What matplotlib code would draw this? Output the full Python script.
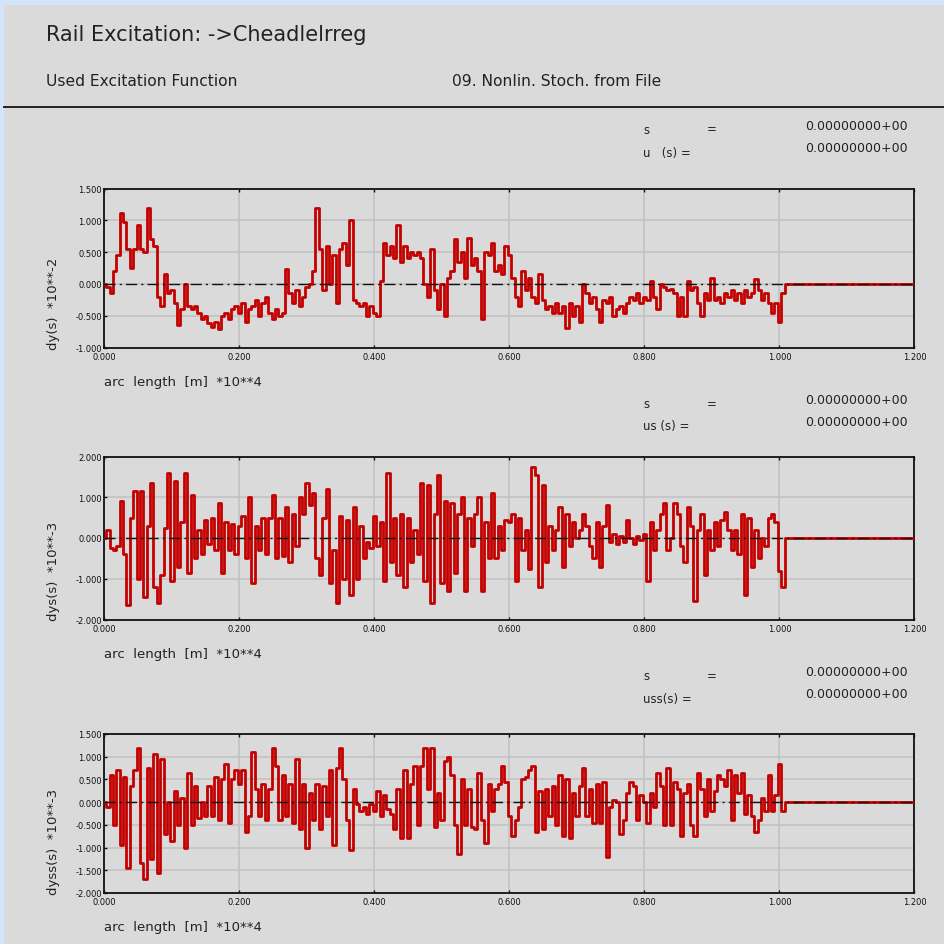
import numpy as np
import matplotlib
matplotlib.use("Agg")
import matplotlib.pyplot as plt
from matplotlib.patches import Rectangle
from matplotlib.lines import Line2D

plt.rcParams['font.family'] = ['DejaVu Sans']

# ---------------------------------------------------------------- data
S_STEP = 0.005          # arc length sampling, units of 10**4 m
S_END = 1.200           # end of the plotted arc length range

dy = [
    0.00, -0.05, -0.15, 0.20, 0.45, 1.12, 0.98, 0.55, 0.25, 0.55,
    0.93, 0.55, 0.50, 1.20, 0.70, 0.60, -0.20, -0.35, 0.15, -0.15,
    -0.10, -0.30, -0.65, -0.40, 0.00, -0.35, -0.40, -0.35, -0.45, -0.55,
    -0.50, -0.62, -0.68, -0.60, -0.71, -0.50, -0.45, -0.55, -0.40, -0.35,
    -0.45, -0.30, -0.60, -0.40, -0.35, -0.25, -0.50, -0.30, -0.20, -0.45,
    -0.55, -0.40, -0.50, -0.45, 0.23, -0.15, -0.30, -0.10, -0.35, -0.20,
    -0.05, 0.00, 0.20, 1.20, 0.55, -0.10, 0.60, 0.00, 0.45, -0.30,
    0.55, 0.65, 0.30, 1.00, -0.25, -0.30, -0.35, -0.30, -0.50, -0.35,
    -0.45, -0.50, 0.05, 0.65, 0.45, 0.60, 0.40, 0.93, 0.35, 0.60,
    0.40, 0.50, 0.45, 0.50, 0.40, 0.00, -0.20, 0.55, -0.10, -0.40,
    0.00, -0.50, 0.10, 0.20, 0.70, 0.35, 0.50, 0.10, 0.72, 0.30,
    0.40, 0.20, -0.55, 0.50, 0.45, 0.65, 0.20, 0.30, 0.15, 0.60,
    0.45, 0.10, -0.20, -0.35, 0.20, -0.10, 0.10, -0.20, -0.30, 0.15,
    -0.25, -0.40, -0.35, -0.45, -0.30, -0.45, -0.35, -0.70, -0.30, -0.50,
    -0.35, -0.60, 0.00, -0.15, -0.30, -0.20, -0.40, -0.60, -0.25, -0.30,
    -0.20, -0.50, -0.40, -0.35, -0.45, -0.30, -0.20, -0.25, -0.15, -0.30,
    -0.20, -0.25, 0.05, -0.20, -0.40, 0.00, -0.05, -0.10, -0.08, -0.15,
    -0.50, -0.20, -0.50, 0.05, -0.10, -0.05, -0.30, -0.50, -0.15, -0.25,
    0.10, -0.25, -0.20, -0.30, -0.15, -0.20, -0.10, -0.25, -0.15, -0.30,
    -0.10, -0.20, -0.15, 0.08, -0.10, -0.25, -0.15, -0.30, -0.45, -0.30,
    -0.60, -0.15, 0.00,
]

dys = [
    0.00, 0.20, -0.25, -0.30, -0.20, 0.90, -0.40, -1.65, 0.50, 1.15,
    -1.00, 1.15, -1.45, 0.30, 1.35, -1.20, -1.60, -0.90, 0.25, 1.60,
    -1.05, 1.40, -0.70, 0.40, 1.60, -0.85, 1.05, -0.50, 0.20, -0.40,
    0.45, -0.15, 0.50, -0.30, 0.85, -0.85, 0.40, -0.30, 0.35, -0.40,
    0.30, 0.55, -0.50, 1.00, -1.10, 0.30, -0.30, 0.50, -0.40, 0.50,
    1.05, -0.50, 0.50, -0.45, 0.75, -0.60, 0.60, -0.20, 1.00, 0.60,
    1.35, 0.80, 1.10, -0.50, -0.90, 0.50, 1.20, -1.10, -0.30, -1.60,
    0.55, -1.00, 0.45, -1.40, 0.75, -1.00, 0.30, -0.50, -0.10, -0.25,
    0.55, -0.20, 0.40, -1.05, 1.60, -0.60, 0.50, -0.90, 0.60, -1.20,
    0.50, -0.60, 0.20, -0.40, 1.35, -1.05, 1.30, -1.60, 0.60, 1.55,
    -1.10, 0.90, -1.30, 0.85, -0.85, 0.60, 1.00, -1.30, 0.50, -0.20,
    0.60, 1.00, -1.30, 0.40, -0.50, 1.10, -0.50, 0.30, -0.30, 0.45,
    0.40, 0.60, -1.05, 0.50, -0.30, 0.20, -0.75, 1.75, 1.55, -1.20,
    1.30, -0.60, 0.30, -0.30, 0.20, 0.75, -0.70, 0.60, -0.20, 0.40,
    0.00, 0.20, 0.60, 0.30, -0.20, -0.50, 0.40, -0.70, 0.30, 0.80,
    -0.10, 0.10, -0.15, 0.05, -0.10, 0.45, 0.00, -0.15, 0.05, -0.05,
    0.10, -1.05, 0.40, -0.30, 0.20, 0.60, 0.85, -0.30, 0.00, 0.85,
    0.60, -0.20, -0.60, 0.75, 0.30, -1.55, 0.20, 0.60, -0.90, 0.20,
    -0.30, 0.40, -0.20, 0.45, 0.65, 0.20, -0.30, 0.20, -0.40, 0.60,
    -1.40, 0.50, -0.70, 0.20, -0.50, 0.00, -0.20, 0.50, 0.60, 0.40,
    -0.80, -1.20, 0.00,
]

dyss = [
    0.00, -0.10, 0.60, -0.50, 0.70, -0.95, 0.55, -1.45, 0.35, 0.70,
    1.20, -1.35, -1.70, 0.75, -1.25, 1.05, -1.55, 0.95, -0.70, 0.00,
    -0.85, 0.25, -0.50, 0.10, -1.00, 0.65, -0.50, 0.35, -0.35, 0.00,
    -0.30, 0.35, -0.30, 0.55, -0.40, 0.50, 0.85, -0.45, 0.50, 0.70,
    0.40, 0.70, -0.65, -0.30, 1.10, 0.30, -0.30, 0.40, -0.40, 0.30,
    1.20, 0.80, -0.40, 0.60, -0.30, 0.40, -0.45, 0.95, -0.60, 0.40,
    -1.00, 0.20, -0.40, 0.40, -0.60, 0.35, -0.30, 0.70, -0.95, 0.75,
    1.20, 0.50, -0.40, -1.05, 0.30, -0.05, -0.20, -0.10, -0.25, -0.05,
    -0.20, 0.25, -0.30, 0.15, -0.15, -0.25, -0.60, 0.30, -0.80, 0.70,
    -0.80, 0.40, 0.80, -0.50, 0.80, 1.20, 0.30, 1.20, -0.55, 0.20,
    -0.40, 0.90, 1.00, 0.60, -0.50, -1.15, 0.50, -0.50, 0.30, -0.55,
    -0.60, 0.65, -0.40, -0.90, 0.40, -0.20, 0.30, 0.40, 0.80, 0.45,
    -0.30, -0.75, -0.40, -0.10, 0.50, 0.55, 0.70, 0.80, -0.65, 0.25,
    -0.60, 0.30, -0.30, 0.35, -0.50, 0.60, -0.75, 0.50, -0.80, 0.20,
    -0.30, 0.35, 0.75, -0.30, 0.30, -0.45, 0.40, -0.45, 0.45, -1.20,
    -0.10, 0.05, 0.00, -0.70, -0.40, 0.20, 0.45, 0.35, -0.40, 0.15,
    0.00, -0.45, 0.20, -0.10, 0.65, 0.35, -0.50, 0.75, -0.50, 0.45,
    0.30, -0.75, 0.20, 0.40, -0.50, -0.75, 0.65, 0.30, -0.30, 0.50,
    -0.20, 0.25, 0.60, 0.50, 0.35, 0.70, -0.40, 0.60, 0.20, 0.65,
    -0.25, 0.15, -0.30, -0.65, -0.40, 0.10, -0.20, 0.60, -0.20, 0.15,
    0.85, -0.20, 0.00,
]

x_ticks = [0.0, 0.2, 0.4, 0.6, 0.8, 1.0, 1.2]
panel_ylim = [(-1.0, 1.5), (-2.0, 2.0), (-2.0, 1.5)]
panel_yticks = [
    [-1.0, -0.5, 0.0, 0.5, 1.0, 1.5],
    [-2.0, -1.0, 0.0, 1.0, 2.0],
    [-2.0, -1.5, -1.0, -0.5, 0.0, 0.5, 1.0, 1.5],
]
panel_ylabels = ['dy(s)  *10**-2', 'dys(s)  *10**-3', 'dyss(s)  *10**-3']
panel_vars = ['u   (s) =', 'us (s) =', 'uss(s) =']
panel_vals = ['0.00000000+00', '0.00000000+00']
series = [dy, dys, dyss]

# ---------------------------------------------------------------- layout
W = H = 945
BG = '#dadada'
RED = '#c40000'
GRID = '#c2c2c2'
INK = '#222222'


def fx(px):
    return px / W


def fy(py):
    return 1 - py / H


fig = plt.figure(figsize=(W / 100, H / 100), dpi=100)
fig.patch.set_facecolor('#d4e4fa')
fig.add_artist(Rectangle((fx(4), 0), 1, fy(6), transform=fig.transFigure,
                         facecolor=BG, edgecolor='none', zorder=0))
fig.add_artist(Line2D([fx(4), 1], [fy(108), fy(108)], transform=fig.transFigure,
                      color=INK, lw=1.4))

fig.text(fx(46), fy(41), 'Rail Excitation: ->Cheadlelrreg', fontsize=15,
         color=INK, va='baseline', ha='left')
fig.text(fx(46), fy(86), 'Used Excitation Function', fontsize=11.2,
         color=INK, va='baseline', ha='left')
fig.text(fx(452), fy(86), '09. Nonlin. Stoch. from File', fontsize=11.2,
         color=INK, va='baseline', ha='left')

# pixel geometry of the three plot frames: (top, bottom)
frames = [(189.5, 348.5), (457.5, 620.5), (735.0, 894.0)]
header_y = [(130, 154), (405, 427), (677, 700)]
LEFT, RIGHT = 104.5, 914.5

for k in range(3):
    top, bot = frames[k]
    ax = fig.add_axes([fx(LEFT), fy(bot), fx(RIGHT - LEFT), (bot - top) / H])
    ax.set_facecolor(BG)
    vals = np.array(series[k] + [0.0])
    arc = np.append(np.arange(len(series[k])) * S_STEP, S_END)
    ax.plot(arc, vals, color=RED, lw=2.0, drawstyle='steps-mid', zorder=3)
    ax.axhline(0.0, color='#111111', lw=1.0, ls=(0, (8, 3, 1.5, 3)), zorder=4)
    ax.set_xlim(0.0, S_END)
    ax.set_ylim(*panel_ylim[k])
    ax.set_xticks(x_ticks)
    ax.set_yticks(panel_yticks[k])
    ax.set_xticklabels([f'{v:.3f}' for v in x_ticks])
    ax.set_yticklabels([f'{v:.3f}' for v in panel_yticks[k]])
    ax.grid(True, color=GRID, lw=1.2, zorder=1)
    ax.tick_params(axis='both', labelsize=6, length=2.5, width=1,
                   direction='in', pad=2, colors='#111111')
    ax.tick_params(axis='x', top=True, pad=3)
    for sp in ax.spines.values():
        sp.set_linewidth(1.3)
        sp.set_color('#111111')

    fig.text(fx(54), fy(bot + 1), panel_ylabels[k], rotation=90, fontsize=9.5,
             ha='center', va='bottom', color=INK)
    fig.text(fx(LEFT), fy(bot + 34), 'arc  length  [m]  *10**4', fontsize=9.5,
             ha='left', va='center', color=INK)

    y1, y2 = header_y[k]
    fig.text(fx(643), fy(y1), 's', fontsize=8.5, ha='left', va='center', color=INK)
    fig.text(fx(707), fy(y1), '=', fontsize=8.5, ha='left', va='center', color=INK)
    fig.text(fx(643), fy(y2), panel_vars[k], fontsize=8.5, ha='left', va='center',
             color=INK)
    fig.text(fx(908), fy(y1 - 4), panel_vals[0], fontsize=9, ha='right',
             va='center', color=INK)
    fig.text(fx(908), fy(y2 - 5), panel_vals[1], fontsize=9, ha='right',
             va='center', color=INK)

fig.savefig('out.png', dpi=100, facecolor=fig.get_facecolor())
